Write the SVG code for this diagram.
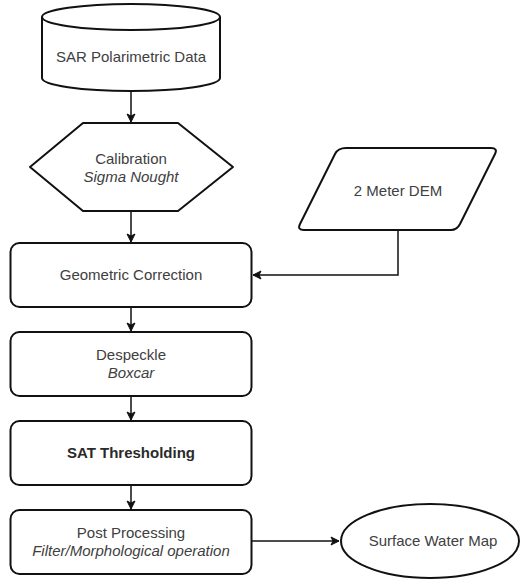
<svg xmlns="http://www.w3.org/2000/svg" width="522" height="580" viewBox="0 0 522 580">
<defs>
<style>
.sh{fill:#fff;stroke:#111;stroke-width:2;stroke-linejoin:round}
.t{font-family:"Liberation Sans",Arial,sans-serif;font-size:15px;fill:#404040;text-anchor:middle}
.i{font-style:italic}
.b{font-weight:bold;fill:#2a2a2a}
.c{fill:none;stroke:#111;stroke-width:1.5}
</style>
<marker id="ah" markerWidth="10" markerHeight="10" refX="9" refY="5" orient="auto" markerUnits="userSpaceOnUse">
<path d="M1,1 L9,5 L1,9 L3,5 Z" fill="#111" stroke="#111" stroke-width="1"/>
</marker>
</defs>
<rect width="522" height="580" fill="#fff"/>
<g id="connectors">
<path class="c" d="M131,91 V122" marker-end="url(#ah)"/>
<path class="c" d="M131,211 V242" marker-end="url(#ah)"/>
<path class="c" d="M398,230 V275 H253" marker-end="url(#ah)"/>
<path class="c" d="M131,307 V331" marker-end="url(#ah)"/>
<path class="c" d="M131,396 V420" marker-end="url(#ah)"/>
<path class="c" d="M131,485 V509" marker-end="url(#ah)"/>
<path class="c" d="M252,541 H339" marker-end="url(#ah)"/>
</g>
<g id="sar">
<path class="sh" d="M42,17 A89,13 0 0 1 220,17 V78 A89,13 0 0 1 42,78 Z"/>
<path class="sh" fill="none" d="M42,17 A89,13 0 0 0 220,17"/>
<text class="t" x="131" y="62">SAR Polarimetric Data</text>
</g>
<g id="calibration">
<polygon class="sh" points="30,167 83,123 178,123 233,167 178,211 83,211"/>
<text class="t" x="131" y="164">Calibration</text>
<text class="t i" x="131" y="182">Sigma Nought</text>
</g>
<g id="dem">
<path class="sh" d="M346,148 H491 Q498,148 495,154 L460,224 Q457,230 451,230 H304 Q297,230 300,224 L335,154 Q338,148 346,148 Z"/>
<text class="t" x="398" y="196">2 Meter DEM</text>
</g>
<g id="geometric">
<rect class="sh" x="10.5" y="243" width="241" height="64" rx="9"/>
<text class="t" x="131" y="280">Geometric Correction</text>
</g>
<g id="despeckle">
<rect class="sh" x="10.5" y="332" width="241" height="64" rx="9"/>
<text class="t" x="131" y="360">Despeckle</text>
<text class="t i" x="131" y="378">Boxcar</text>
</g>
<g id="sat">
<rect class="sh" x="10.5" y="421" width="241" height="64" rx="9"/>
<text class="t b" x="131" y="458">SAT Thresholding</text>
</g>
<g id="post">
<rect class="sh" x="10.5" y="510" width="241" height="64" rx="9"/>
<text class="t" x="131" y="538">Post Processing</text>
<text class="t i" x="131" y="556">Filter/Morphological operation</text>
</g>
<g id="surface">
<ellipse class="sh" cx="430" cy="541" rx="89" ry="37"/>
<text class="t" x="433" y="546">Surface Water Map</text>
</g>
</svg>
